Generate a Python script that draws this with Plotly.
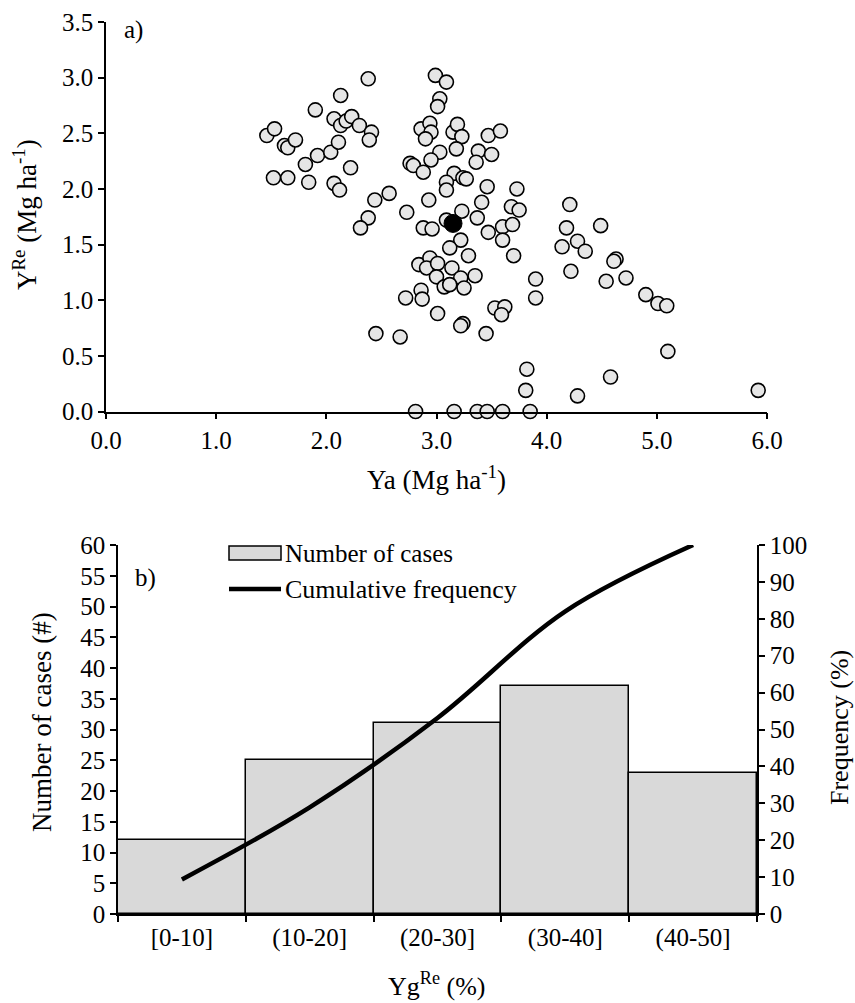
import plotly.graph_objects as go
import numpy as np

# ---------- panel a) data ----------
ya = [1.46, 1.53, 1.62, 1.65, 1.72, 1.52, 1.65, 1.81, 1.84, 1.92, 1.90, 2.04, 2.11, 2.13, 2.07,
      2.13, 2.18, 2.23, 2.30, 2.38, 2.41, 2.39, 2.22, 2.07, 2.12, 2.44, 2.57, 2.38, 2.73, 2.99,
      3.09, 3.03, 3.01, 2.86, 2.94, 2.95, 2.90, 3.15, 3.19, 3.23, 3.18, 3.03, 2.95, 2.76, 2.79,
      2.88, 3.47, 3.58, 3.38, 3.50, 3.36, 3.16, 3.09, 3.09, 3.24, 3.27, 3.46, 3.73, 2.93, 3.41,
      3.23, 3.68, 3.75, 3.37, 3.09, 2.31, 2.88, 2.96, 3.47, 3.60, 3.69, 3.60, 3.22, 3.12, 3.29,
      3.70, 2.84, 2.94, 2.91, 3.01, 3.14, 3.00, 3.35, 3.22, 3.07, 3.12, 3.25, 2.86, 2.72, 2.87,
      3.01, 3.53, 3.62, 3.59, 3.90, 3.90, 4.22, 4.14, 4.28, 4.35, 4.18, 4.21, 4.49, 4.63, 4.61,
      4.54, 4.72, 4.90, 5.01, 5.09, 5.10, 2.45, 2.67, 3.24, 3.22, 3.45, 3.82, 3.81, 4.28, 4.58,
      5.92, 2.81, 3.16, 3.37, 3.46, 3.60, 3.85]
yre = [2.48, 2.54, 2.39, 2.37, 2.44, 2.10, 2.10, 2.22, 2.06, 2.30, 2.71, 2.33, 2.42, 2.84, 2.63,
       2.57, 2.61, 2.65, 2.57, 2.99, 2.51, 2.44, 2.19, 2.05, 1.99, 1.90, 1.96, 1.74, 1.79, 3.02,
       2.96, 2.81, 2.74, 2.54, 2.59, 2.51, 2.45, 2.51, 2.58, 2.47, 2.36, 2.33, 2.26, 2.23, 2.21,
       2.15, 2.48, 2.52, 2.34, 2.31, 2.24, 2.14, 2.06, 1.99, 2.10, 2.09, 2.02, 2.00, 1.90, 1.88,
       1.80, 1.84, 1.81, 1.74, 1.72, 1.65, 1.65, 1.64, 1.61, 1.66, 1.68, 1.54, 1.54, 1.47, 1.40,
       1.40, 1.32, 1.38, 1.29, 1.33, 1.29, 1.21, 1.22, 1.20, 1.12, 1.14, 1.11, 1.09, 1.02, 1.01,
       0.88, 0.93, 0.94, 0.87, 1.19, 1.02, 1.26, 1.48, 1.53, 1.44, 1.65, 1.86, 1.67, 1.37, 1.35,
       1.17, 1.20, 1.05, 0.97, 0.95, 0.54, 0.70, 0.67, 0.79, 0.77, 0.70, 0.38, 0.19, 0.14, 0.31,
       0.19, 0.00, 0.00, 0.00, 0.00, 0.00, 0.00]
mean_ya = [3.15]
mean_yre = [1.69]

# ---------- panel b) data ----------
classes = ["[0-10]", "(10-20]", "(20-30]", "(30-40]", "(40-50]"]
n_cases = [12, 25, 31, 37, 23]
cum_freq = list(np.cumsum(n_cases) / np.sum(n_cases) * 100)

FONT = "Liberation Serif"
FS = 25
FT = 27
W, H = 855, 1003

fig = go.Figure()

fig.add_trace(go.Scatter(
    x=ya, y=yre, mode="markers", xaxis="x", yaxis="y",
    marker=dict(size=14, color="#e6e6e6", line=dict(color="black", width=1.6)),
    cliponaxis=False, showlegend=False))
fig.add_trace(go.Scatter(
    x=mean_ya, y=mean_yre, mode="markers", xaxis="x", yaxis="y",
    marker=dict(size=18, color="black", line=dict(color="black", width=1)),
    cliponaxis=False, showlegend=False))

fig.add_trace(go.Bar(
    x=classes, y=n_cases, xaxis="x2", yaxis="y2", name="Number of cases",
    marker=dict(color="#d9d9d9", line=dict(color="black", width=1.5)),
    showlegend=False))
fig.add_trace(go.Scatter(
    x=classes, y=cum_freq, xaxis="x2", yaxis="y3", mode="lines",
    name="Cumulative frequency", line=dict(color="black", width=4.5, shape="spline"),
    showlegend=False))

def px_x(p):
    return p / W

def px_y(p):
    return 1 - p / H

tickfont = dict(family=FONT, size=FS, color="black")
axis_common = dict(showgrid=False, zeroline=False, showline=True, linecolor="black",
                   linewidth=1.6, ticks="outside", ticklen=6, tickwidth=1.6,
                   tickcolor="black", tickfont=tickfont, automargin=False)

fig.update_layout(
    template="none",
    width=W, height=H, autosize=False,
    margin=dict(l=0, r=0, t=0, b=0, pad=0, autoexpand=False),
    paper_bgcolor="white", plot_bgcolor="white",
    font=dict(family=FONT, size=FS, color="black"),
    bargap=0,
    xaxis=dict(domain=[px_x(106), px_x(767)], range=[0, 6], dtick=1, tickformat=".1f",
               anchor="y", **axis_common),
    yaxis=dict(domain=[px_y(411.5), px_y(22)], range=[0, 3.5], dtick=0.5, tickformat=".1f",
               anchor="x", **axis_common),
    xaxis2=dict(domain=[px_x(118), px_x(757)], range=[-0.5, 4.5], type="category",
                tickson="boundaries", anchor="y2", **axis_common),
    yaxis2=dict(domain=[px_y(914), px_y(545)], range=[0, 60], dtick=5,
                anchor="x2", **axis_common),
    yaxis3=dict(range=[0, 100], dtick=10, overlaying="y2", side="right",
                anchor="x2", **axis_common),
)

annotations = [
    dict(text="a)", x=px_x(122), y=px_y(30), xanchor="left", yanchor="middle", size=FS),
    dict(text="b)", x=px_x(133), y=px_y(578), xanchor="left", yanchor="middle", size=FS),
    dict(text="Ya (Mg ha<sup>-1</sup>)", x=px_x(436), y=px_y(478), xanchor="center",
         yanchor="middle", size=FT),
    dict(text="Y<sup>Re</sup> (Mg ha<sup>-1</sup>)", x=px_x(25), y=px_y(215), xanchor="center",
         yanchor="middle", textangle=-90, size=FT),
    dict(text="Yg<sup>Re</sup> (%)", x=px_x(437), y=px_y(984), xanchor="center",
         yanchor="middle", size=26),
    dict(text="Number of cases (#)", x=px_x(42), y=px_y(722), xanchor="center",
         yanchor="middle", textangle=-90, size=FT),
    dict(text="Frequency (%)", x=px_x(839), y=px_y(728), xanchor="center",
         yanchor="middle", textangle=-90, size=26),
    dict(text="Number of cases", x=px_x(283), y=px_y(553), xanchor="left", yanchor="middle", size=FS),
    dict(text="Cumulative frequency", x=px_x(283), y=px_y(589), xanchor="left",
         yanchor="middle", size=26),
]
anns = []
for a in annotations:
    size = a.pop("size")
    anns.append(dict(a, xref="paper", yref="paper", showarrow=False,
                     font=dict(family=FONT, size=size, color="black")))
fig.update_layout(annotations=anns)

# legend samples (manual legend)
fig.add_shape(type="rect", xref="paper", yref="paper",
              x0=px_x(229), x1=px_x(281), y0=px_y(560), y1=px_y(546),
              fillcolor="#d9d9d9", line=dict(color="black", width=1.5))
fig.add_shape(type="line", xref="paper", yref="paper",
              x0=px_x(229), x1=px_x(281), y0=px_y(589), y1=px_y(589),
              line=dict(color="black", width=4.5))

fig.write_html("out.html")
